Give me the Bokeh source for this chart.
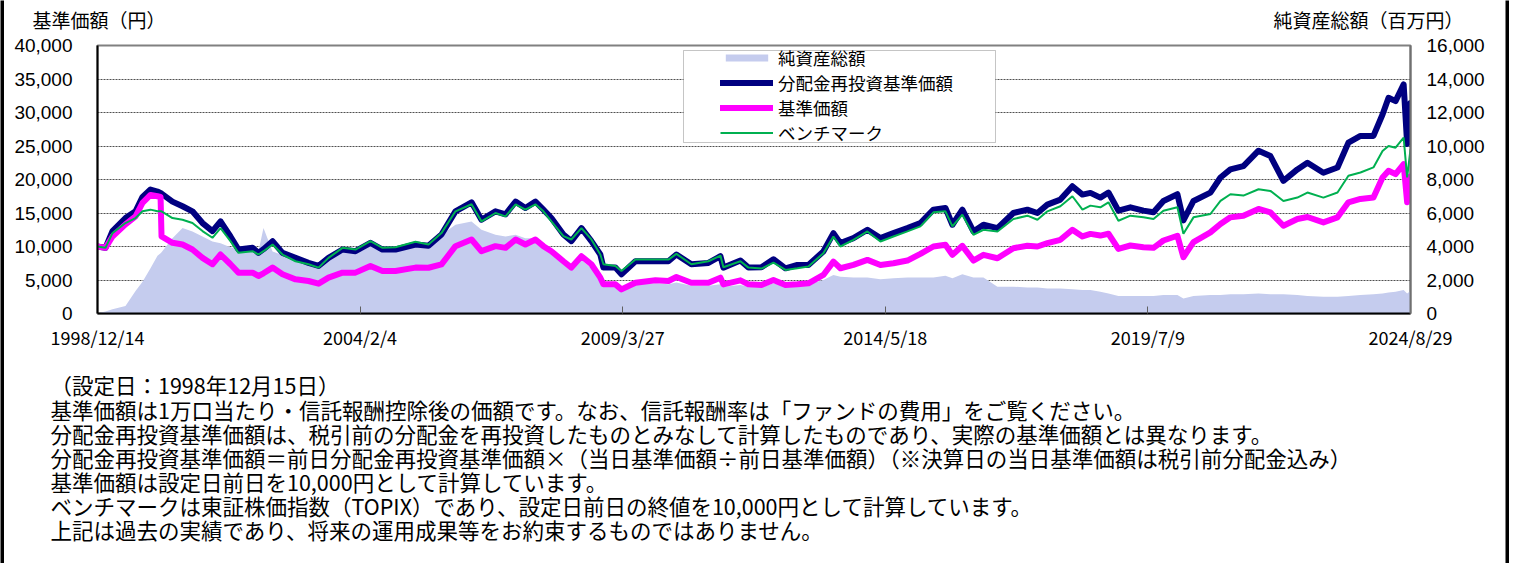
import pandas as pd
from bokeh.plotting import figure
from bokeh.layouts import row, column
from bokeh.models import (Range1d, LinearAxis, FixedTicker, NumeralTickFormatter,
                          CustomJSTickFormatter, BoxAnnotation, ColumnDataSource)
from bokeh.core.properties import value
from bokeh.embed import file_html
from bokeh.resources import INLINE

# ---------------- data ----------------
dates = [
    "1998-12-14", "1999-02-09", "1999-03-31", "1999-07-02", "1999-09-12", "1999-11-01", "1999-12-28", "2000-02-16", "2000-03-09", "2000-03-16",
    "2000-06-02", "2000-08-13", "2000-10-23", "2001-01-03", "2001-03-15", "2001-05-12", "2001-07-22", "2001-09-17", "2001-12-27", "2002-02-07",
    "2002-03-15", "2002-05-19", "2002-07-29", "2002-10-30", "2003-01-31", "2003-04-13", "2003-06-23", "2003-10-01", "2004-01-02", "2004-04-18",
    "2004-07-13", "2004-10-14", "2005-03-06", "2005-06-07", "2005-09-08", "2005-12-17", "2006-04-11", "2006-06-21", "2006-09-29", "2006-12-10",
    "2007-02-20", "2007-05-01", "2007-07-12", "2007-09-07", "2007-11-03", "2008-01-28", "2008-03-25", "2008-06-05", "2008-08-15", "2008-10-18",
    "2008-11-09", "2009-02-03", "2009-03-18", "2009-06-26", "2009-11-16", "2010-02-17", "2010-04-15", "2010-07-31", "2010-11-30", "2011-02-24",
    "2011-03-17", "2011-07-17", "2011-09-12", "2011-12-14", "2012-03-09", "2012-06-03", "2012-08-27", "2012-11-14", "2013-03-01", "2013-05-12",
    "2013-07-01", "2013-10-02", "2014-01-10", "2014-04-13", "2014-07-15", "2014-10-23", "2015-01-24", "2015-04-27", "2015-07-22", "2015-09-10",
    "2015-11-20", "2016-02-07", "2016-04-19", "2016-07-28", "2016-11-19", "2017-02-27", "2017-05-10", "2017-07-20", "2017-10-21", "2018-01-15",
    "2018-03-28", "2018-05-24", "2018-08-03", "2018-09-30", "2018-12-10", "2019-03-06", "2019-06-07", "2019-08-18", "2019-10-28", "2020-02-05",
    "2020-03-19", "2020-05-30", "2020-09-28", "2020-12-09", "2021-02-18", "2021-05-22", "2021-09-07", "2021-12-01", "2022-03-04", "2022-06-12",
    "2022-08-23", "2022-12-15", "2023-03-26", "2023-06-12", "2023-09-06", "2023-12-08", "2024-02-11", "2024-03-25", "2024-05-14", "2024-07-11",
    "2024-08-05", "2024-08-29",
]

# 分配金再投資基準価額 (円)
reinvest_nav = [
    10000, 9800, 12300, 14250, 15250, 17400, 18500, 18200, 18000, 17900,
    16700, 16000, 15250, 13500, 12300, 13750, 11500, 9550, 9800, 9050,
    9600, 10800, 9050, 8300, 7550, 7100, 8300, 9550, 9300, 10550,
    9550, 9550, 10300, 10100, 11800, 15250, 16600, 14000, 15250, 14800,
    16700, 15750, 16700, 15500, 14250, 11800, 10800, 12750, 10800, 8800,
    6850, 6850, 5850, 7800, 7800, 7800, 8800, 7350, 7550, 8550,
    6850, 7900, 6850, 6900, 8100, 6750, 7250, 7250, 9250, 12000,
    10500, 11250, 12500, 11250, 12000, 12750, 13500, 15500, 15750, 13250,
    15500, 12250, 13250, 12750, 15000, 15500, 15000, 16250, 17000, 19000,
    17750, 18000, 17300, 18050, 15350, 15850, 15350, 15100, 16800, 17800,
    13900, 16800, 18050, 20300, 21500, 22000, 24300, 23500, 19800, 21500,
    22500, 21000, 21800, 25500, 26500, 26500, 29700, 32200, 31700, 34200,
    25300, 31400,
]

# 基準価額 (円)
nav = [
    10000, 9800, 11500, 13300, 14500, 16500, 17700, 17500, 17400, 11500,
    10550, 10300, 9550, 8300, 7350, 8800, 7350, 6100, 6100, 5600,
    6000, 6850, 5850, 5100, 4850, 4450, 5350, 6100, 6100, 7100,
    6350, 6350, 6850, 6830, 7330, 10050, 11050, 9300, 10050, 9800,
    11050, 10300, 11050, 10050, 9300, 7800, 6850, 8550, 7350, 5350,
    4350, 4350, 3600, 4600, 4950, 4850, 5450, 4600, 4600, 5350,
    4350, 4950, 4350, 4250, 5000, 4250, 4350, 4500, 5750, 7750,
    6750, 7250, 8000, 7250, 7500, 7900, 8900, 10000, 10250, 8750,
    10100, 7900, 8750, 8250, 9750, 10100, 10000, 10500, 11000, 12500,
    11500, 11880, 11630, 11900, 9650, 10150, 9900, 9800, 10900, 11600,
    8400, 10650, 12100, 13350, 14350, 14600, 15600, 15100, 13100, 14100,
    14400, 13600, 14350, 16600, 17100, 17300, 20300, 21300, 20800, 22300,
    16600, 20500,
]

# ベンチマーク
benchmark = [
    10000, 9800, 12000, 13500, 14250, 15250, 15500, 15250, 15250, 15250,
    14250, 14000, 13500, 12300, 11300, 12750, 10800, 9050, 9300, 8800,
    9300, 10300, 8800, 7800, 7350, 6850, 8300, 9800, 9550, 10800,
    9800, 9900, 10700, 10300, 12000, 15250, 16300, 13750, 15000, 14500,
    16300, 15500, 16300, 15250, 13750, 11550, 11050, 12750, 11050, 8800,
    7350, 7100, 6350, 8050, 8050, 8050, 8900, 7350, 7800, 8650,
    6900, 7800, 6850, 6700, 7600, 6500, 6750, 7000, 9000, 11500,
    10000, 11000, 12250, 10750, 11500, 12250, 13000, 15100, 15250, 13000,
    14750, 11750, 12500, 12250, 14100, 14600, 14000, 15250, 16000, 17500,
    15500, 16100, 15850, 16600, 13850, 14600, 14350, 14100, 15350, 15850,
    11900, 14350, 14850, 16800, 17800, 17600, 18550, 18300, 16800, 17300,
    18050, 17300, 18050, 20550, 21050, 21800, 24250, 25000, 24750, 26250,
    20300, 24500,
]

# 純資産総額 (百万円)
net_assets = [
    10, 120, 250, 450, 1350, 1900, 2700, 3450, 3600, 3650,
    4500, 5100, 4900, 4600, 4300, 4200, 3950, 3850, 3800, 3700,
    5100, 3700, 3500, 3200, 3000, 2900, 3200, 3700, 3700, 4100,
    3800, 3800, 4100, 4000, 4700, 5300, 5500, 5000, 4700, 4600,
    4700, 4500, 4500, 4000, 3700, 3100, 2900, 3200, 2700, 2100,
    1700, 1700, 1500, 1750, 1800, 1750, 1850, 1650, 1650, 1750,
    1600, 1700, 1600, 1550, 1800, 1700, 1750, 1750, 2000, 2300,
    2200, 2150, 2150, 2050, 2100, 2150, 2150, 2150, 2250, 2100,
    2350, 2150, 2150, 1600, 1600, 1550, 1550, 1500, 1500, 1450,
    1400, 1400, 1300, 1200, 1050, 1050, 1050, 1050, 1100, 1100,
    900, 1050, 1100, 1100, 1150, 1150, 1200, 1150, 1150, 1100,
    1050, 1000, 1000, 1050, 1100, 1150, 1200, 1250, 1300, 1400,
    1200, 1350,
]

x_tick_dates = ["1998-12-14", "2004-02-04", "2009-03-27", "2014-05-18", "2019-07-09", "2024-08-29"]
left_ticks = [0, 5000, 10000, 15000, 20000, 25000, 30000, 35000, 40000]
right_ticks = [0, 2000, 4000, 6000, 8000, 10000, 12000, 14000, 16000]

series_names = ["純資産総額", "分配金再投資基準価額", "基準価額", "ベンチマーク"]
left_title = "基準価額（円）"
right_title = "純資産総額（百万円）"
notes = [
    "（設定日：1998年12月15日）",
    "基準価額は1万口当たり・信託報酬控除後の価額です。なお、信託報酬率は「ファンドの費用」をご覧ください。",
    "分配金再投資基準価額は、税引前の分配金を再投資したものとみなして計算したものであり、実際の基準価額とは異なります。",
    "分配金再投資基準価額＝前日分配金再投資基準価額×（当日基準価額÷前日基準価額）（※決算日の当日基準価額は税引前分配金込み）",
    "基準価額は設定日前日を10,000円として計算しています。",
    "ベンチマークは東証株価指数（TOPIX）であり、設定日前日の終値を10,000円として計算しています。",
    "上記は過去の実績であり、将来の運用成果等をお約束するものではありません。",
]

JP = "Noto Sans CJK JP"
COL_W = 1501           # width of the content column (page x 4 .. 1505)
X0 = 4                 # page x where the content column starts


def blank_fig(w, h, x0, x1, y0, y1):
    f = figure(width=w, height=h, output_backend="svg", toolbar_location=None,
               x_range=Range1d(x0, x1), y_range=Range1d(y0, y1),
               x_axis_location=None, y_axis_location=None,
               min_border=0, min_border_left=0, min_border_right=0,
               min_border_top=0, min_border_bottom=0, frame_align=False)
    f.outline_line_color = None
    f.xgrid.visible = False
    f.ygrid.visible = False
    return f


# ---------------- top strip: axis titles ----------------
top = blank_fig(COL_W, 36, X0, X0 + COL_W, 36, 0)
top.text(x=[32, 1273], y=[19, 19], text=[left_title, right_title],
         text_font=value(JP), text_font_size="19px", text_baseline="middle",
         text_align="left", text_color="black")

# ---------------- main chart ----------------
src = ColumnDataSource(dict(x=pd.to_datetime(dates), reinvest=reinvest_nav, nav=nav,
                            bench=benchmark, assets=net_assets))

p = figure(width=COL_W, height=324, x_axis_type="datetime", output_backend="svg",
           toolbar_location=None, frame_align=False,
           x_range=Range1d(pd.Timestamp(x_tick_dates[0]), pd.Timestamp(x_tick_dates[-1])),
           y_range=Range1d(0, 40000),
           min_border_left=93, min_border_right=95, min_border_top=9, min_border_bottom=47)
p.extra_y_ranges = {"assets": Range1d(0, 16000)}

p.varea(x="x", y1=0, y2="assets", source=src, y_range_name="assets",
        fill_color="#c5ccee", legend_label=series_names[0])
p.line(x="x", y="reinvest", source=src, line_color="#000080", line_width=6,
       line_cap="round", line_join="round", legend_label=series_names[1])
p.line(x="x", y="nav", source=src, line_color="#ff00ff", line_width=6,
       line_cap="round", line_join="round", legend_label=series_names[2])
p.line(x="x", y="bench", source=src, line_color="#00b050", line_width=2,
       legend_label=series_names[3])

p.outline_line_color = "#808080"
p.outline_line_width = 2
p.xgrid.visible = False
p.ygrid.ticker = FixedTicker(ticks=left_ticks)
p.ygrid.grid_line_color = "#505050"
p.ygrid.grid_line_dash = "2 1"
p.ygrid.grid_line_width = 1

xa = p.xaxis[0]
xa.ticker = FixedTicker(ticks=[pd.Timestamp(d).value / 1e6 for d in x_tick_dates])
xa.formatter = CustomJSTickFormatter(code="""
const d = new Date(tick);
return d.getUTCFullYear() + "/" + (d.getUTCMonth() + 1) + "/" + d.getUTCDate();
""")
xa.major_tick_in = 7
xa.major_tick_out = 0
xa.minor_tick_line_color = None
xa.major_tick_line_color = "#606060"
xa.axis_line_color = "black"
xa.axis_line_width = 2
xa.major_label_text_font = JP
xa.major_label_text_font_size = "18px"
xa.major_label_text_color = "black"
xa.major_label_standoff = 10

ya = p.yaxis[0]
ya.ticker = FixedTicker(ticks=left_ticks)
ya.formatter = NumeralTickFormatter(format="0,0")
ya.major_tick_in = 0
ya.major_tick_out = 0
ya.minor_tick_line_color = None
ya.axis_line_color = "black"
ya.axis_line_width = 2
ya.major_label_text_font = "Liberation Sans"
ya.major_label_text_font_size = "19px"
ya.major_label_text_color = "black"
ya.major_label_standoff = 25

ra = LinearAxis(y_range_name="assets", ticker=FixedTicker(ticks=right_ticks),
                formatter=NumeralTickFormatter(format="0,0"))
ra.major_tick_in = 0
ra.major_tick_out = 0
ra.minor_tick_line_color = None
ra.axis_line_color = "#707070"
ra.axis_line_width = 2
ra.major_label_text_font = "Liberation Sans"
ra.major_label_text_font_size = "19px"
ra.major_label_text_color = "black"
ra.major_label_standoff = 16
p.add_layout(ra, "right")

# legend frame (canvas px of the main figure: page x - 4, page y - 36)
p.add_layout(BoxAnnotation(left=679, right=991, top=14, bottom=106,
                           left_units="canvas", right_units="canvas",
                           top_units="canvas", bottom_units="canvas",
                           fill_color="white", fill_alpha=1.0,
                           line_color="#404040", line_width=1, level="underlay"))

lg = p.legend[0]
lg.location = (621, 166)
lg.padding = 2
lg.spacing = 0
lg.margin = 0
lg.border_line_alpha = 0
lg.background_fill_alpha = 0
lg.glyph_width = 53
lg.glyph_height = 9
lg.label_height = 22
lg.label_standoff = 5
lg.label_text_font = JP
lg.label_text_font_size = "17.5px"
lg.label_text_color = "black"

# ---------------- notes ----------------
notes_fig = blank_fig(COL_W, 203, X0, X0 + COL_W, 563, 360)
notes_fig.text(x=[50] * len(notes), y=[384, 409, 433, 457, 481, 505, 529], text=notes,
               text_font=value(JP), text_font_size="21.5px", text_baseline="middle",
               text_align="left", text_color="black")

# ---------------- side bars of the frame ----------------
def bar():
    b = blank_fig(4, 563, 0, 1, 0, 1)
    b.background_fill_color = "black"
    b.border_fill_color = "black"
    return b


layout = row(bar(), column(top, p, notes_fig, spacing=0), bar(), spacing=0)

open("out.html", "w").write(file_html(layout, INLINE))
